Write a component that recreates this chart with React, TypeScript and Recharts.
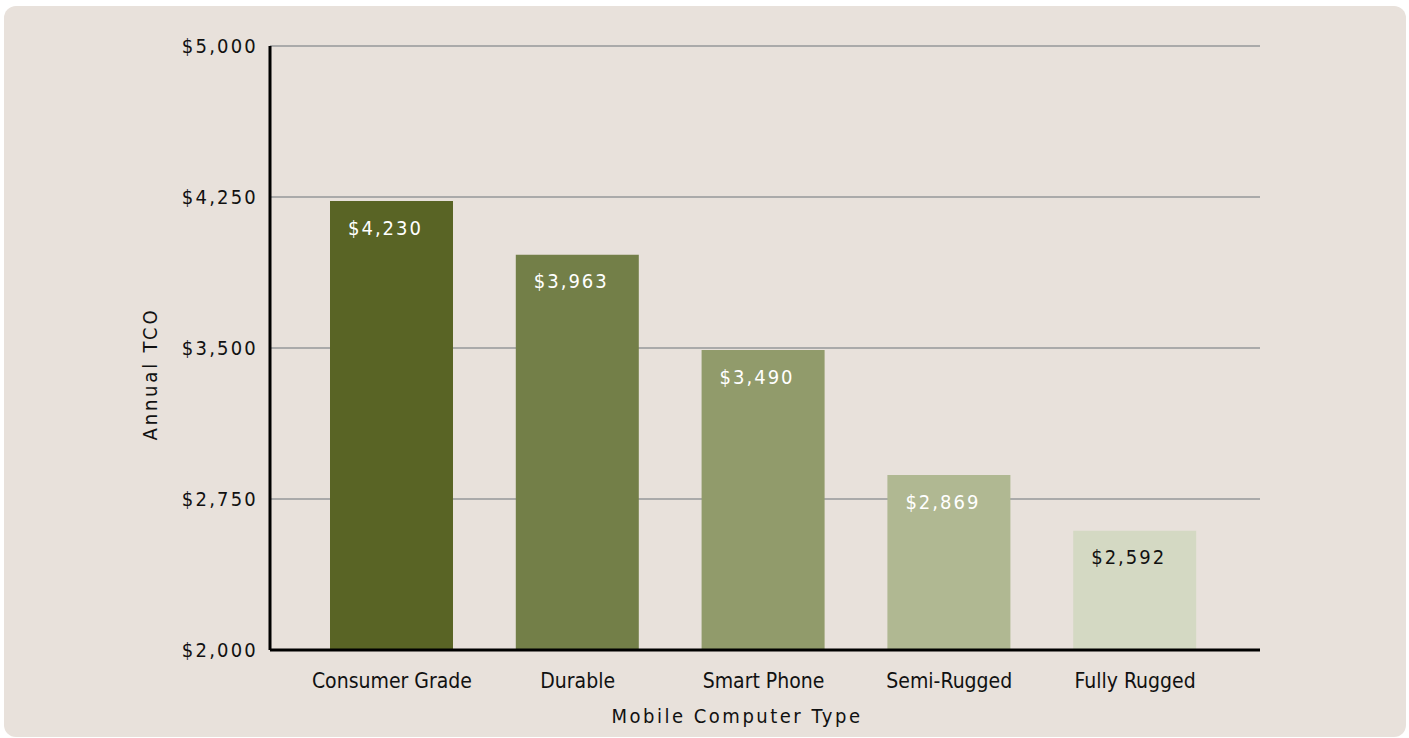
import React from 'react';
import { BarChart, Bar, XAxis, YAxis, CartesianGrid, LabelList, Cell } from 'recharts';

const categories = ['Consumer Grade', 'Durable', 'Smart Phone', 'Semi-Rugged', 'Fully Rugged'];
const values = [4230, 3963, 3490, 2869, 2592];
const barColors = ['#596425', '#737f48', '#919b6b', '#b0b892', '#d4d9c3'];
const labelColors = ['#ffffff', '#ffffff', '#ffffff', '#ffffff', '#111111'];
const yTicks = [2000, 2750, 3500, 4250, 5000];

const data = categories.map((c, i) => ({ name: c, value: values[i] }));

const FONT = '"DejaVu Sans Condensed", "DejaVu Sans", sans-serif';

const fmt = (v: number) => '$' + v.toLocaleString('en-US');

const BarLabel = (props: any) => {
  const { x, y, width, value, index } = props;
  return (
    <text
      x={x + width / 2 - 6}
      y={y + 28}
      textAnchor="middle"
      dominantBaseline="middle"
      fill={labelColors[index]}
      fontFamily={FONT}
      fontSize={20}
      letterSpacing={2}
    >
      {fmt(value)}
    </text>
  );
};

const YLabel = (props: any) => {
  const { viewBox } = props;
  const cx = viewBox.x + viewBox.width - 119;
  const cy = viewBox.y + viewBox.height / 2 + 26;
  return (
    <text
      x={cx}
      y={cy}
      transform={`rotate(-90, ${cx}, ${cy})`}
      textAnchor="middle"
      dominantBaseline="middle"
      fill="#111"
      fontFamily={FONT}
      fontSize={20}
      letterSpacing={2.8}
    >
      Annual TCO
    </text>
  );
};

const XLabel = (props: any) => {
  const { viewBox } = props;
  const cx = viewBox.x + viewBox.width / 2 - 28;
  const cy = viewBox.y + 67;
  return (
    <text
      x={cx}
      y={cy}
      textAnchor="middle"
      dominantBaseline="middle"
      fill="#111"
      fontFamily={FONT}
      fontSize={20}
      letterSpacing={2.5}
    >
      Mobile Computer Type
    </text>
  );
};

export default function App() {
  return (
    <div style={{ position: 'absolute', left: 0, top: 0, width: 1409, height: 738, background: '#ffffff' }}>
      <div
        style={{
          position: 'absolute',
          left: 4,
          top: 6,
          width: 1402,
          height: 731,
          borderRadius: 12,
          background: '#e8e1db',
        }}
      />
      <div style={{ position: 'absolute', left: 0, top: 0 }}>
        <BarChart
          width={1409}
          height={738}
          data={data}
          margin={{ top: 46, right: 149, bottom: 48, left: 170 }}
        >
          <CartesianGrid vertical={false} stroke="#aaaaaa" strokeWidth={2} />
          <XAxis
            dataKey="name"
            tickLine={false}
            axisLine={{ stroke: '#000', strokeWidth: 3 }}
            padding={{ left: 29, right: 32 }}
            height={40}
            tick={{ fill: '#111', fontFamily: FONT, fontSize: 21 }}
            tickMargin={17}
            label={<XLabel />}
          />
          <YAxis
            domain={[2000, 5000]}
            ticks={yTicks}
            width={100}
            tickLine={false}
            axisLine={{ stroke: '#000', strokeWidth: 3 }}
            tickFormatter={fmt}
            tick={{ fill: '#111', fontFamily: FONT, fontSize: 20, letterSpacing: 2.2 }}
            tickMargin={6}
            label={<YLabel />}
          />
          <Bar dataKey="value" barSize={123} isAnimationActive={false}>
            {data.map((d, i) => (
              <Cell key={d.name} fill={barColors[i]} />
            ))}
            <LabelList dataKey="value" content={<BarLabel />} />
          </Bar>
        </BarChart>
      </div>
    </div>
  );
}
